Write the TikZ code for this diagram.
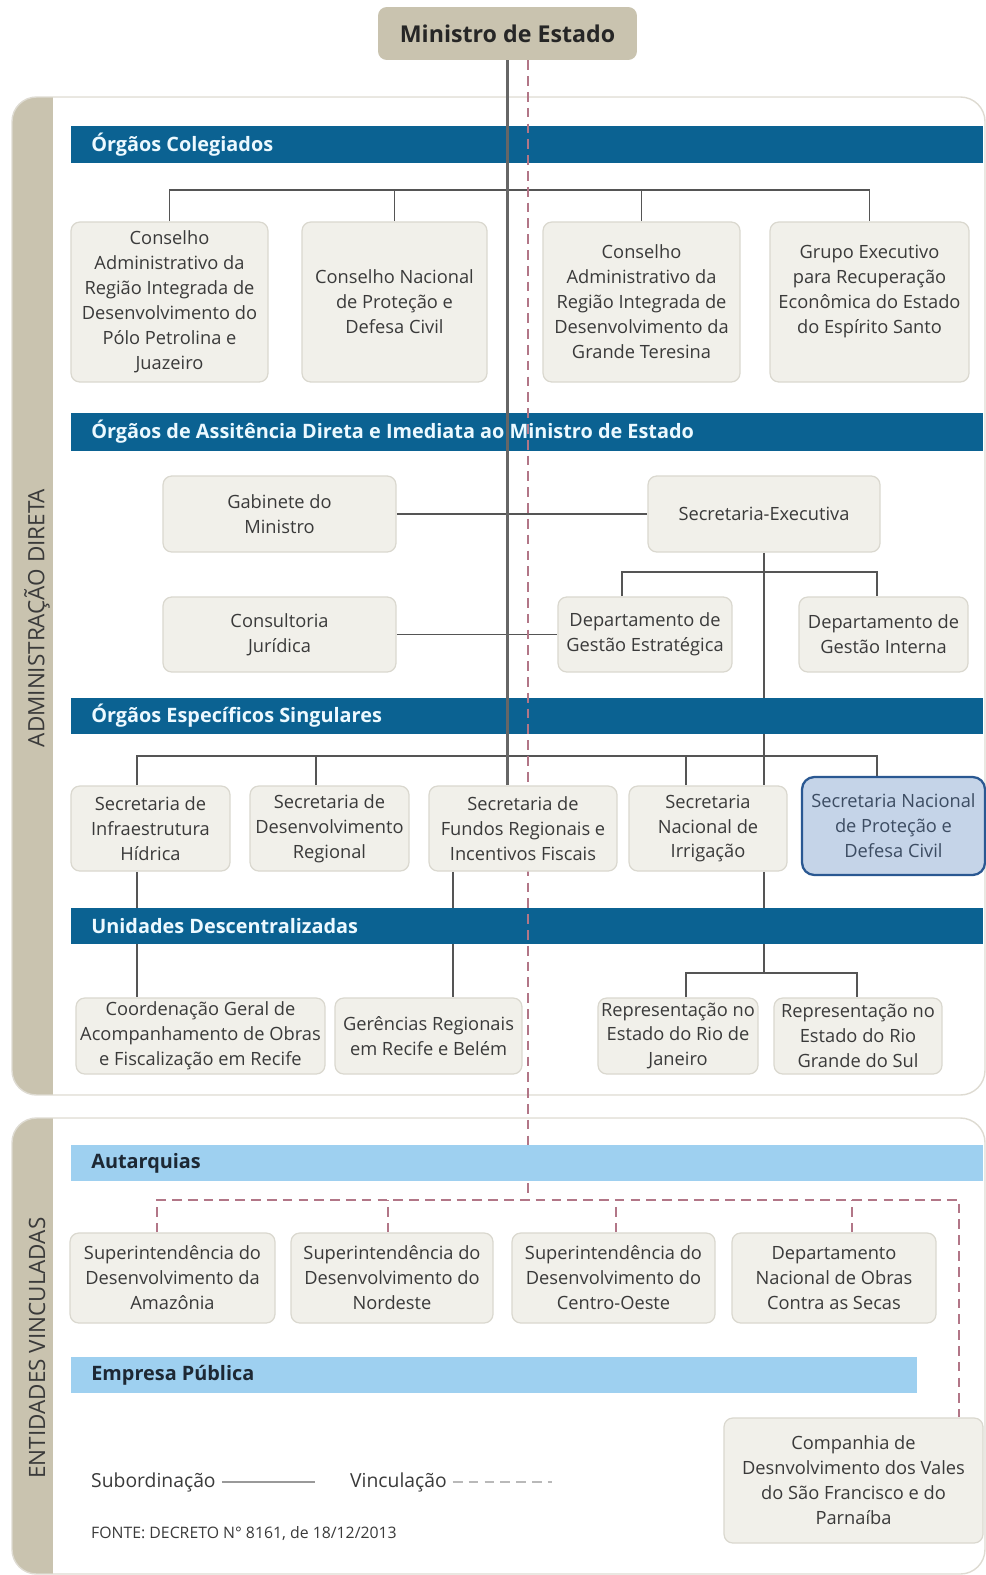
\documentclass[tikz,border=0pt]{standalone}
\usepackage{fontspec}
\setmainfont{Open Sans}
\definecolor{tanfill}{RGB}{201,195,175}
\definecolor{barblue}{RGB}{11,98,146}
\definecolor{barlight}{RGB}{158,208,240}
\definecolor{boxfill}{RGB}{241,240,234}
\definecolor{boxline}{RGB}{218,216,207}
\definecolor{boxtext}{RGB}{58,58,58}
\definecolor{linkgray}{RGB}{85,85,85}
\definecolor{vincrose}{RGB}{178,118,135}
\definecolor{hlfill}{RGB}{197,212,232}
\definecolor{hlline}{RGB}{42,88,146}
\definecolor{hltext}{RGB}{60,76,98}
\definecolor{panelline}{RGB}{222,219,210}
\definecolor{bartext}{RGB}{236,249,255}
\definecolor{darktext}{RGB}{29,40,52}
\pgfdeclarelayer{panels}
\pgfdeclarelayer{links}
\pgfsetlayers{panels,links,main}
\tikzset{
  topbox/.style={fill=tanfill, rounded corners=5pt, text=black!85, font=\fontsize{13.2}{15}\selectfont\bfseries},
  orgbox/.style={draw=boxline, fill=boxfill, line width=0.7pt, rounded corners=5pt, align=center, inner sep=1pt, text=boxtext, font=\fontsize{10.4}{14.2}\selectfont},
  hlbox/.style={orgbox, draw=hlline, fill=hlfill, line width=1.3pt, text=hltext, rounded corners=7pt},
  darkbar/.style={fill=barblue},
  lightbar/.style={fill=barlight},
  bartitle/.style={anchor=west, inner sep=0pt, text=bartext, font=\fontsize{11.3}{13}\selectfont\bfseries},
  lighttitle/.style={bartitle, text=darktext},
  sub/.style={draw=linkgray, line width=0.8pt},
  mainlink/.style={draw=linkgray!90, line width=1.9pt},
  vinc/.style={draw=vincrose, line width=0.9pt, dash pattern=on 5.5pt off 3.5pt},
  panel/.style={draw=panelline, line width=0.8pt, rounded corners=14pt},
  sidetext/.style={rotate=90, text=boxtext, font=\fontsize{12.8}{14}\selectfont},
  legendtext/.style={anchor=west, text=boxtext, font=\fontsize{11}{13}\selectfont},
  legendsub/.style={draw=gray!80, line width=0.8pt},
  legendvinc/.style={draw=gray!55, line width=0.9pt, dash pattern=on 5.5pt off 3.5pt}
}
\begin{document}
\begin{tikzpicture}[x=0.02cm,y=-0.02cm]
\useasboundingbox (0,0) rectangle (986,1575);

\begin{pgfonlayer}{panels}
\begin{scope}
\clip[rounded corners=14pt] (12,97) rectangle (985,1095);
\fill[white] (12,97) rectangle (985,1095);
\fill[tanfill] (12,97) rectangle (53,1095);
\end{scope}
\draw[panel] (12,97) rectangle (985,1095);
\begin{scope}
\clip[rounded corners=14pt] (12,1118) rectangle (985,1574);
\fill[white] (12,1118) rectangle (985,1574);
\fill[tanfill] (12,1118) rectangle (53,1574);
\end{scope}
\draw[panel] (12,1118) rectangle (985,1574);
\node[sidetext] (admdireta) at (37,618) {ADMINISTRAÇÃO DIRETA};
\node[sidetext] (entvinc) at (37,1348) {ENTIDADES VINCULADAS};
\end{pgfonlayer}

\node[topbox, minimum width=5.18cm, minimum height=1.06cm] (ministro) at (507.5,33.5) {Ministro de Estado};

\node[orgbox, minimum width=3.94cm, minimum height=3.2cm] (c1) at (169.5,302) {Conselho\\Administrativo da\\Região Integrada de\\Desenvolvimento do\\Pólo Petrolina e\\Juazeiro};
\node[orgbox, minimum width=3.7cm, minimum height=3.2cm] (c2) at (394.5,302) {Conselho Nacional\\de Proteção e\\Defesa Civil};
\node[orgbox, minimum width=3.94cm, minimum height=3.2cm] (c3) at (641.5,302) {Conselho\\Administrativo da\\Região Integrada de\\Desenvolvimento da\\Grande Teresina};
\node[orgbox, minimum width=3.98cm, minimum height=3.2cm] (c4) at (869.5,302) {Grupo Executivo\\para Recuperação\\Econômica do Estado\\do Espírito Santo\\\mbox{}};

\node[orgbox, minimum width=4.66cm, minimum height=1.52cm] (gab) at (279.5,514) {Gabinete do\\Ministro};
\node[orgbox, minimum width=4.64cm, minimum height=1.52cm] (sec) at (764,514) {Secretaria-Executiva};
\node[orgbox, minimum width=4.66cm, minimum height=1.5cm] (cons) at (279.5,634.5) {Consultoria\\Jurídica};
\node[orgbox, minimum width=3.48cm, minimum height=1.5cm] (dge) at (645,634.5) {Departamento de\\Gestão Estratégica};
\node[orgbox, minimum width=3.38cm, minimum height=1.5cm] (dgi) at (883.5,634.5) {Departamento de\\Gestão Interna};

\node[orgbox, minimum width=3.18cm, minimum height=1.7cm] (s1) at (150.5,828.5) {Secretaria de\\Infraestrutura\\Hídrica};
\node[orgbox, minimum width=3.18cm, minimum height=1.7cm] (s2) at (329.5,828.5) {Secretaria de\\Desenvolvimento\\Regional};
\node[orgbox, minimum width=3.76cm, minimum height=1.7cm] (s3) at (523,828.5) {Secretaria de\\Fundos Regionais e\\Incentivos Fiscais};
\node[orgbox, minimum width=3.16cm, minimum height=1.7cm] (s4) at (708,828.5) {Secretaria\\Nacional de\\Irrigação};
\node[hlbox, minimum width=3.66cm, minimum height=1.96cm] (s5) at (893.5,826) {Secretaria Nacional\\de Proteção e\\Defesa Civil};

\node[orgbox, minimum width=4.98cm, minimum height=1.52cm] (u1) at (200.5,1036) {Coordenação Geral de\\Acompanhamento de Obras\\e Fiscalização em Recife};
\node[orgbox, minimum width=3.74cm, minimum height=1.52cm] (u2) at (428.5,1036) {Gerências Regionais\\em Recife e Belém};
\node[orgbox, minimum width=3.2cm, minimum height=1.52cm] (u3) at (678,1036) {Representação no\\Estado do Rio de\\Janeiro};
\node[orgbox, minimum width=3.36cm, minimum height=1.52cm] (u4) at (858,1036) {Representação no\\Estado do Rio\\Grande do Sul};

\node[orgbox, minimum width=4.1cm, minimum height=1.8cm] (a1) at (172.5,1278) {Superintendência do\\Desenvolvimento da\\Amazônia};
\node[orgbox, minimum width=4.04cm, minimum height=1.8cm] (a2) at (392,1278) {Superintendência do\\Desenvolvimento do\\Nordeste};
\node[orgbox, minimum width=4.06cm, minimum height=1.8cm] (a3) at (613.5,1278) {Superintendência do\\Desenvolvimento do\\Centro-Oeste};
\node[orgbox, minimum width=4.08cm, minimum height=1.8cm] (a4) at (834,1278) {Departamento\\Nacional de Obras\\Contra as Secas};
\node[orgbox, minimum width=5.18cm, minimum height=2.5cm] (cia) at (853.5,1480.5) {Companhia de\\Desnvolvimento dos Vales\\do São Francisco e do\\Parnaíba};

\node[legendtext] (lsub) at (85,1482) {Subordinação};
\coordinate (lsubend) at (315,1483);
\draw[legendsub] (lsub.east) -- (lsub.east -| lsubend);
\node[legendtext] (lvinc) at (344,1482) {Vinculação};
\coordinate (lvincend) at (552,1483);
\draw[legendvinc] (lvinc.east) -- (lvinc.east -| lvincend);
\node[legendtext, font=\fontsize{9}{11}\selectfont] (fonte) at (85,1533) {FONTE: DECRETO N° 8161, de 18/12/2013};

\begin{pgfonlayer}{links}
\coordinate (cbus) at (0,190);
\draw[sub] (c1.north) -- (c1.north |- cbus) -- (c4.north |- cbus) -- (c4.north);
\draw[sub] (c2.north) -- (c2.north |- cbus);
\draw[sub] (c3.north) -- (c3.north |- cbus);
\draw[sub] (gab) -- (sec);
\draw[sub] (cons) -- (dge);
\draw[sub] (sec.south) -- (sec.south |- s4.north);
\coordinate (dbus) at (0,572);
\draw[sub] (dge.north -| 622,0) -- (dbus -| 622,0) -- (dbus -| 877,0) -- (dgi.north -| 877,0);
\coordinate (sbus) at (0,756);
\draw[sub] (s1.north -| 137,0) -- (sbus -| 137,0) -- (sbus -| 877,0) -- (s5.north -| 877,0);
\draw[sub] (s2.north -| 316,0) -- (sbus -| 316,0);
\draw[sub] (s4.north -| 686,0) -- (sbus -| 686,0);
\draw[sub] (s1.south -| 137,0) -- (u1.north -| 137,0);
\draw[sub] (s3.south -| 453,0) -- (u2.north -| 453,0);
\coordinate (ubus) at (0,973);
\draw[sub] (s4.south -| sec.south) -- (ubus -| sec.south);
\draw[sub] (u3.north -| 686,0) -- (ubus -| 686,0) -- (ubus -| 857,0) -- (u4.north -| 857,0);
\fill[darkbar] (71,126) rectangle (983,163);
\fill[darkbar] (71,413) rectangle (983,451);
\fill[darkbar] (71,698) rectangle (983,734);
\fill[darkbar] (71,908) rectangle (983,944);
\coordinate (vbus) at (0,1200);
\draw[mainlink] (ministro.south) -- (s3.north -| ministro.south);
\draw[vinc] (ministro.south -| 528,0) -- (vbus -| 528,0);
\fill[lightbar] (71,1145) rectangle (983,1181);
\fill[lightbar] (71,1357) rectangle (917,1393);
\node[bartitle] (colegiados) at (91,144.5) {Órgãos Colegiados};
\node[bartitle] (assistencia) at (91,432) {Órgãos de Assitência Direta e Imediata ao Ministro de Estado};
\node[bartitle] (especificos) at (91,716) {Órgãos Específicos Singulares};
\node[bartitle] (unidades) at (91,926) {Unidades Descentralizadas};
\node[lighttitle] (autarquias) at (91,1163) {Autarquias};
\node[lighttitle] (empresa) at (91,1375) {Empresa Pública};
\draw[vinc] (a1.north -| 157,0) -- (vbus -| 157,0) -- (vbus -| 959,0) -- (cia.north -| 959,0);
\draw[vinc] (a2.north -| 388,0) -- (vbus -| 388,0);
\draw[vinc] (a3.north -| 616,0) -- (vbus -| 616,0);
\draw[vinc] (a4.north -| 852,0) -- (vbus -| 852,0);
\end{pgfonlayer}
\end{tikzpicture}
\end{document}
